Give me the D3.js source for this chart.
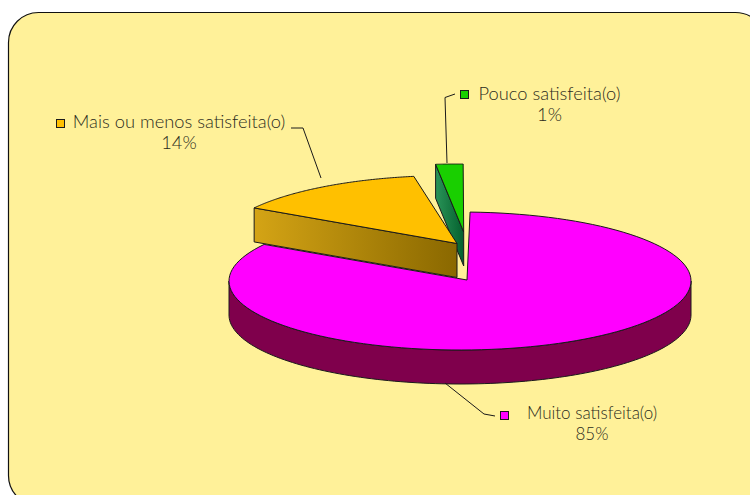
<!DOCTYPE html>
<html>
<head>
<meta charset="utf-8">
<script src="https://d3js.org/d3.v7.min.js"></script>
<style>
  html, body { margin: 0; padding: 0; background: #fff; }
  svg { display: block; }
  text { font-family: Lato, "Open Sans", sans-serif; font-weight: 300; fill: #2b2b20; }
</style>
</head>
<body>
<div id="chart"></div>
<script>
// values printed on the chart
const categories = ["Muito satisfeita(o)", "Mais ou menos satisfeita(o)", "Pouco satisfeita(o)"];
const percents = [85, 14, 1];

// angular shares as drawn in the picture (they differ from the labels, and leave small gaps)
const sliceNames = ["muito", "mais", null, "pouco", null];
const sliceShares = [83.2, 13.6, 1.05, 1.9, 0.25];

const topColors = { muito: "#ff00ff", mais: "#ffc000", pouco: "#19cf00" };

const WIDTH = 750, HEIGHT = 495;
const RX = 231, RY = 69, DEPTH = 34;
const APEX_DX = 7, APEX_DY = -1;

// pie centre of each slice, the small ones are pulled out
const centers = {
    muito: [460, 281],
    mais: [450, 244.5],
    pouco: [456.7, 233]
};

const svg = d3.select("#chart").append("svg")
    .attr("width", WIDTH)
    .attr("height", HEIGHT);

const defs = svg.append("defs");

const gradMais = defs.append("linearGradient").attr("id", "wallMais");
gradMais.append("stop").attr("offset", 0).attr("stop-color", "#d4a415");
gradMais.append("stop").attr("offset", 1).attr("stop-color", "#8a6800");

const gradPouco = defs.append("linearGradient").attr("id", "wallPouco");
gradPouco.append("stop").attr("offset", 0).attr("stop-color", "#2a9458");
gradPouco.append("stop").attr("offset", 1).attr("stop-color", "#04602e");

// panel
svg.append("rect")
    .attr("x", 8.5)
    .attr("y", 12.5)
    .attr("width", 757)
    .attr("height", 493)
    .attr("rx", 30)
    .attr("fill", "#fff199")
    .attr("stroke", "#111")
    .attr("stroke-width", 1.2);

const pie = d3.pie()
    .sort(null)
    .startAngle(2.5 * Math.PI / 180)
    .endAngle((360 + 2.5) * Math.PI / 180);

const slices = {};
pie(sliceShares).forEach((d, i) => {
    if (sliceNames[i]) slices[sliceNames[i]] = d;
});

const line = d3.line();

const rimPoints = (c, a0, a1, dy = 0) =>
    d3.range(0, 121).map(i => {
        const a = a0 + (a1 - a0) * i / 120;
        return [c[0] + RX * Math.sin(a), c[1] - RY * Math.cos(a) + dy];
    });

const apexOf = c => [c[0] + APEX_DX, c[1] + APEX_DY];

// top face: apex plus rim
const drawTop = (name) => {
    const c = centers[name], s = slices[name];
    svg.append("path")
        .attr("d", line([apexOf(c), ...rimPoints(c, s.startAngle, s.endAngle)]) + "Z")
        .attr("fill", topColors[name])
        .attr("stroke", "#1a1a1a")
        .attr("stroke-width", 1)
        .attr("stroke-linejoin", "round");
};

// a flat wall hanging under one straight cut of a slice
const drawCutWall = (name, angle, fill) => {
    const c = centers[name];
    const a = apexOf(c);
    const r = rimPoints(c, angle, angle, 0)[0];
    const pts = [a, r, [r[0], r[1] + DEPTH], [a[0], a[1] + DEPTH]];
    svg.append("path")
        .attr("d", line(pts) + "Z")
        .attr("fill", fill)
        .attr("stroke", "#1a1a1a")
        .attr("stroke-width", 1)
        .attr("stroke-linejoin", "round");
};

// green slice goes first, it sits behind the orange one
drawCutWall("pouco", slices.pouco.startAngle, "url(#wallPouco)");
drawTop("pouco");

// rim wall of the big slice, only the part facing us
const cm = centers.muito;
const frontRim = rimPoints(cm, Math.PI / 2, Math.PI * 1.5);
const wallPts = [...frontRim, ...frontRim.map(p => [p[0], p[1] + DEPTH]).reverse()];
svg.append("path")
    .attr("d", line(wallPts) + "Z")
    .attr("fill", "#7f004c")
    .attr("stroke", "#1a1a1a")
    .attr("stroke-width", 1);
drawTop("muito");

// orange slice last
drawCutWall("mais", slices.mais.startAngle, "url(#wallMais)");
drawTop("mais");

// labels
const labels = [
    { i: 0, x: 592, y: 419, size: 17, key: [500, 411], leader: [[445, 383], [484, 414], [495, 416]] },
    { i: 1, x: 179, y: 128, size: 18.3, key: [56, 119], leader: [[291, 128], [303, 128], [321, 178]] },
    { i: 2, x: 549.5, y: 100, size: 18.3, key: [460, 90], leader: [[455, 94], [445, 97.5], [447, 163]] }
];

labels.forEach(l => {
    svg.append("path")
        .attr("d", line(l.leader))
        .attr("fill", "none")
        .attr("stroke", "#1a1a1a")
        .attr("stroke-width", 1);

    const name = ["muito", "mais", "pouco"][l.i];
    svg.append("rect")
        .attr("x", l.key[0] + 0.5)
        .attr("y", l.key[1] + 0.5)
        .attr("width", 8)
        .attr("height", 8)
        .attr("fill", topColors[name])
        .attr("stroke", "#1a1a1a")
        .attr("stroke-width", 1);

    svg.append("text")
        .attr("x", l.x)
        .attr("y", l.y)
        .attr("text-anchor", "middle")
        .style("font-size", l.size + "px")
        .text(categories[l.i]);

    svg.append("text")
        .attr("x", l.x)
        .attr("y", l.y + 21)
        .attr("text-anchor", "middle")
        .style("font-size", l.size + "px")
        .text(percents[l.i] + "%");
});
</script>
</body>
</html>
